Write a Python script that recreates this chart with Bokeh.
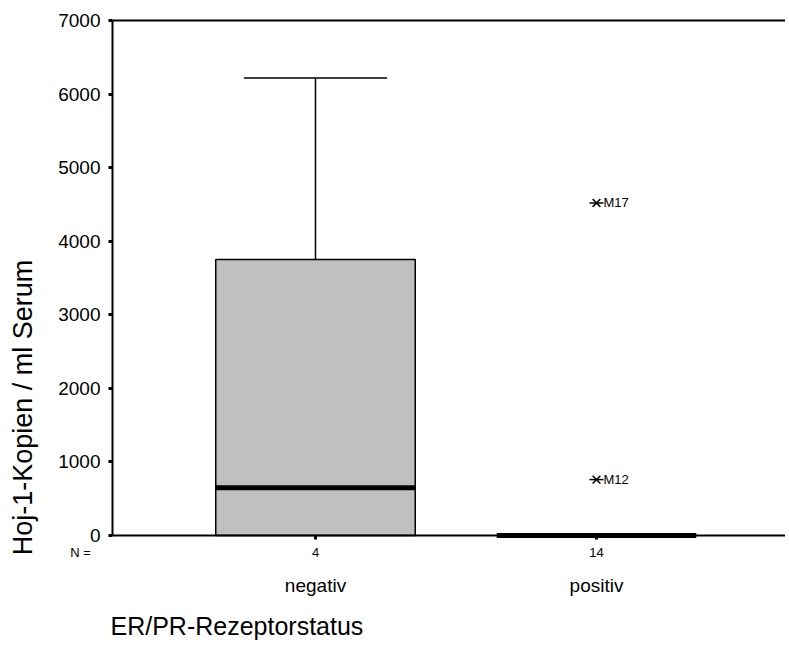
import math
from bokeh.plotting import figure
from bokeh.models import Range1d, FixedTicker, Label, LinearAxis
from bokeh.embed import file_html
from bokeh.resources import INLINE

# ---- data ----
categories = ["negativ", "positiv"]
cat_pos = [1, 2]
n_counts = ["4", "14"]
q1 = [0, 0]
median = [650, 0]
q3 = [3750, 0]
whisker_high = [6220, 0]
outlier_cat = [2, 2]
outlier_val = [4520, 760]
outlier_lab = ["M17", "M12"]
y_ticks = [0, 1000, 2000, 3000, 4000, 5000, 6000, 7000]
y_min, y_max = 0, 7000

FONT = "Liberation Sans"
BOX_W = 0.71
CAP_W = 0.51

W, H = 785, 650
PX_X = 281.0          # px per category unit
PX_Y = 73.57 / 1000   # px per data unit
X0_PX, Y0_PX = 315, 535   # pixel location of (1, 0)


def dx(px):
    return 1 + (px - X0_PX) / PX_X


def dy(py):
    return (Y0_PX - py) / PX_Y


x_lo = dx(112)
p = figure(width=W, height=H, output_backend="svg", toolbar_location=None,
           x_range=Range1d(dx(0), dx(W)), y_range=Range1d(dy(H), dy(0)),
           min_border=0, x_axis_type=None, y_axis_type=None)
p.outline_line_color = None
p.grid.visible = False
p.background_fill_color = "white"


def style(ax):
    ax.axis_line_width = 2
    ax.axis_line_color = "black"
    ax.major_tick_in = 0
    ax.major_tick_out = 4
    ax.major_tick_line_width = 3
    ax.major_tick_line_color = "black"
    ax.minor_tick_line_color = None
    ax.major_label_text_font = FONT
    ax.major_label_text_color = "black"


xax = LinearAxis(ticker=FixedTicker(ticks=cat_pos), fixed_location=y_min,
                 bounds=(x_lo, dx(W)),
                 major_label_overrides={c: n for c, n in zip(cat_pos, n_counts)})
style(xax)
xax.major_label_text_font_size = "13px"
xax.major_label_standoff = 8
p.add_layout(xax, "below")

yax = LinearAxis(ticker=FixedTicker(ticks=y_ticks), fixed_location=x_lo,
                 bounds=(y_min, y_max))
style(yax)
yax.major_label_text_font_size = "19px"
yax.major_label_standoff = 8
p.add_layout(yax, "left")

top = LinearAxis(ticker=FixedTicker(ticks=[]), fixed_location=y_max,
                 bounds=(x_lo, dx(W)))
style(top)
top.major_label_text_font_size = "0px"
top.major_tick_line_color = None
p.add_layout(top, "above")

# boxes
left = [c - BOX_W / 2 for c in cat_pos]
right = [c + BOX_W / 2 for c in cat_pos]
p.quad(left=left, right=right, bottom=q1, top=q3, fill_color="#c0c0c0",
       line_color="black", line_width=1.5)
# whiskers
p.segment(x0=cat_pos, y0=q3, x1=cat_pos, y1=whisker_high, line_color="black", line_width=1.5)
p.segment(x0=[c - CAP_W / 2 for c in cat_pos], y0=whisker_high,
          x1=[c + CAP_W / 2 for c in cat_pos], y1=whisker_high,
          line_color="black", line_width=1.5)
# medians
p.segment(x0=left, y0=median, x1=right, y1=median, line_color="black", line_width=5)

# outliers
p.scatter(x=outlier_cat, y=outlier_val, marker="x", size=11, line_color="black", line_width=1.5)
p.scatter(x=outlier_cat, y=outlier_val, marker="dash", size=14, line_color="black", line_width=1.5)
for xc, yv, lab in zip(outlier_cat, outlier_val, outlier_lab):
    p.add_layout(Label(x=xc, y=yv, text=lab, x_offset=7, text_font=FONT,
                       text_font_size="13px", text_baseline="middle", text_align="left",
                       text_color="black"))

# category labels
for c, name in zip(cat_pos, categories):
    p.add_layout(Label(x=c, y=dy(585), text=name, text_font=FONT, text_font_size="19px",
                       text_align="center", text_baseline="middle", text_color="black"))

p.add_layout(Label(x=dx(80), y=dy(552), text="N =", text_font=FONT,
                   text_font_size="13px", text_align="center", text_baseline="middle",
                   text_color="black"))
p.add_layout(Label(x=dx(110), y=dy(625), text="ER/PR-Rezeptorstatus",
                   text_font=FONT, text_font_size="25px", text_align="left",
                   text_baseline="middle", text_color="black"))
p.add_layout(Label(x=dx(22), y=dy(407), text="Hoj-1-Kopien / ml Serum",
                   text_font=FONT, text_font_size="27px", text_align="center",
                   text_baseline="middle", angle=math.pi / 2, text_color="black"))

open("out.html", "w").write(file_html(p, INLINE))
